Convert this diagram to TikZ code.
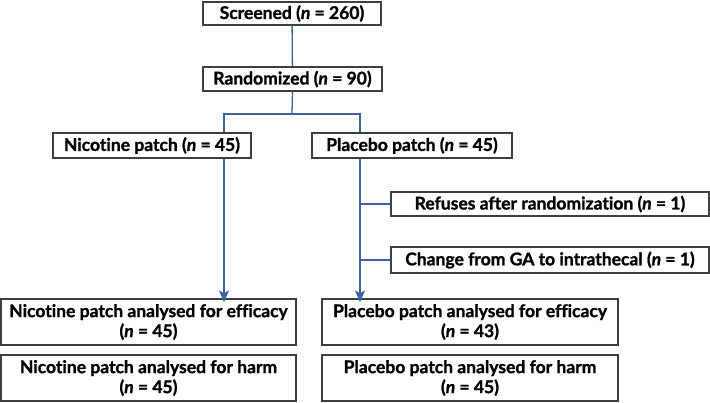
\documentclass[tikz,border=0pt]{standalone}
\usepackage{fontspec}
\setmainfont{Lato}[Ligatures=NoCommon,BoldFont={Lato Bold},BoldItalicFont={Lato Bold Italic},BoldFeatures={FakeBold=1.2},BoldItalicFeatures={FakeBold=1.2}]
\usepackage{tikz}
\usetikzlibrary{arrows.meta,positioning}
\definecolor{flowblue}{HTML}{3D63A0}
\definecolor{boxgray}{HTML}{3F3F3F}
\tikzset{flowbox/.style = {draw=boxgray, line width=1.2pt, fill=white, inner sep=0pt, text centered, align=center, font=\fontsize{17.5pt}{20pt}\selectfont\bfseries}}
\tikzset{link/.style = {draw=flowblue, line width=1.3pt}}
\tikzset{arrow/.style = {link, -{Stealth[length=12pt,width=10pt,inset=3pt]}}}
\newcommand{\nn}[1]{(\textit{n} = #1)}

\begin{document}
\begin{tikzpicture}[x=1pt,y=-1pt]
	\useasboundingbox (0,0) rectangle (710,402);
	% top of the chart
	\node[flowbox, minimum width=178pt, minimum height=23pt] (screened) at (292,13.5) {Screened \nn{260}};
	\node[flowbox, minimum width=179pt, minimum height=24pt] (randomized) at (292.5,79) {Randomized \nn{90}};
	% arms
	\node[flowbox, minimum width=198pt, minimum height=25pt] (nicotine) at (152,145.5) {Nicotine patch \nn{45}};
	\node[flowbox, minimum width=200pt, minimum height=25pt] (placebo) at (412,145.5) {Placebo patch \nn{45}};
	% exclusions
	\node[flowbox, minimum width=318pt, minimum height=24pt] (refuses) at (550,204) {Refuses after randomization \nn{1}};
	\node[flowbox, minimum width=318pt, minimum height=26pt] (change) at (550,260) {Change from GA to intrathecal \nn{1}};
	% analysed
	\node[flowbox, minimum width=295pt, minimum height=46pt] (niceff) at (148.5,322) {Nicotine patch analysed for efficacy\\\nn{45}};
	\node[flowbox, minimum width=295pt, minimum height=46pt] (nicharm) at (148.5,378) {Nicotine patch analysed for harm\\\nn{45}};
	\node[flowbox, minimum width=296pt, minimum height=46pt] (placeff) at (470,322) {Placebo patch analysed for efficacy\\\nn{43}};
	\node[flowbox, minimum width=296pt, minimum height=46pt] (placharm) at (470,378) {Placebo patch analysed for harm\\\nn{45}};

	\coordinate (split) at (292,114);
	\coordinate (nicx) at (224,0);
	\coordinate (plax) at (360,0);

	\draw[link] (screened) -- (randomized);
	\draw[link] (randomized.south) -- (split);
	\draw[link] (nicotine.north -| nicx) |- (split) -| (placebo.north -| plax);
	\draw[arrow] (nicotine.south -| nicx) -- ([yshift=-4pt]niceff.north -| nicx);
	\draw[arrow] (placebo.south -| plax) -- ([yshift=-4pt]placeff.north -| plax);
	\draw[link] (refuses.west) -- (refuses.west -| plax);
	\draw[link] (change.west) -- (change.west -| plax);
\end{tikzpicture}
\end{document}
